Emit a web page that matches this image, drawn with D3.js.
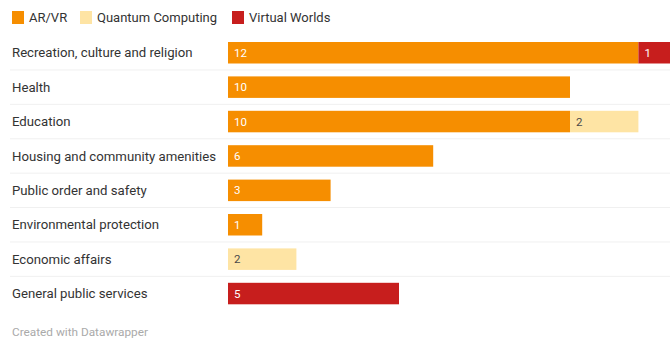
<!DOCTYPE html>
<html>
<head>
<meta charset="utf-8">
<script src="https://cdn.jsdelivr.net/npm/d3@7"></script>
<style>
  html, body { margin: 0; padding: 0; background: #fff; }
  svg { display: block; font-family: Roboto, "Noto Sans", sans-serif; }
</style>
</head>
<body>
<svg id="chart" width="670" height="341"></svg>
<script>
// Projects per policy area, stacked by technology
const categories = [
  "Recreation, culture and religion",
  "Health",
  "Education",
  "Housing and community amenities",
  "Public order and safety",
  "Environmental protection",
  "Economic affairs",
  "General public services"
];
const seriesNames = ["AR/VR", "Quantum Computing", "Virtual Worlds"];
const arvr =    [12, 10, 10, 6, 3, 1, 0, 0];
const quantum = [0, 0, 2, 0, 0, 0, 2, 0];
const virtual = [1, 0, 0, 0, 0, 0, 0, 5];
const colors = ["#f68e00", "#fee4a4", "#c71e1d"];
const labelColors = ["#ffffff", "#4a4a4a", "#ffffff"];

const rows = categories.map((c, i) => ({
  category: c,
  "AR/VR": arvr[i],
  "Quantum Computing": quantum[i],
  "Virtual Worlds": virtual[i]
}));

const svg = d3.select("#chart");

const x = d3.scaleLinear().domain([0, 13]).range([228, 672.6]);
const step = 34.4;
const y = d3.scaleBand()
  .domain(categories)
  .range([42 - step * 0.1875, 42 - step * 0.1875 + step * categories.length])
  .paddingInner(0.375)
  .paddingOuter(0.1875);

// legend
const legend = svg.append("g").attr("class", "legend");
const legendX = [12, 80, 232];
seriesNames.forEach((name, i) => {
  const g = legend.append("g").attr("transform", `translate(${legendX[i]},11)`);
  g.append("rect").attr("width", 12).attr("height", 13).attr("fill", colors[i]);
  g.append("text").attr("x", 17).attr("y", 11)
    .attr("font-size", 13).attr("fill", "#333").text(name);
});

// row separators
svg.append("g").selectAll("line")
  .data(categories.slice(1))
  .join("line")
  .attr("x1", 10).attr("x2", 670)
  .attr("y1", d => y(d) - (y.step() - y.bandwidth()) / 2)
  .attr("y2", d => y(d) - (y.step() - y.bandwidth()) / 2)
  .attr("stroke", "#f0f0f0").attr("stroke-width", 1);

// category labels
svg.append("g").selectAll("text")
  .data(categories)
  .join("text")
  .attr("x", 12)
  .attr("y", d => y(d) + y.bandwidth() / 2)
  .attr("dy", "0.35em")
  .attr("font-size", 13.2)
  .attr("fill", "#333")
  .text(d => d);

// stacked bars
const stacked = d3.stack().keys(seriesNames)(rows);
stacked.forEach((layer, si) => {
  const g = svg.append("g");
  const segs = layer.filter(d => d[1] - d[0] > 0);
  g.selectAll("rect")
    .data(segs)
    .join("rect")
    .attr("x", d => x(d[0]))
    .attr("y", d => y(d.data.category))
    .attr("width", d => x(d[1]) - x(d[0]))
    .attr("height", y.bandwidth())
    .attr("fill", colors[si]);
  g.selectAll("text")
    .data(segs)
    .join("text")
    .attr("x", d => x(d[0]) + 6)
    .attr("y", d => y(d.data.category) + y.bandwidth() / 2)
    .attr("dy", "0.36em")
    .attr("font-size", 11.5)
    .attr("fill", labelColors[si])
    .text(d => d[1] - d[0]);
});

// footer
svg.append("text")
  .attr("x", 12).attr("y", 336)
  .attr("font-size", 11.8)
  .attr("fill", "#aaa")
  .text("Created with Datawrapper");
</script>
</body>
</html>
